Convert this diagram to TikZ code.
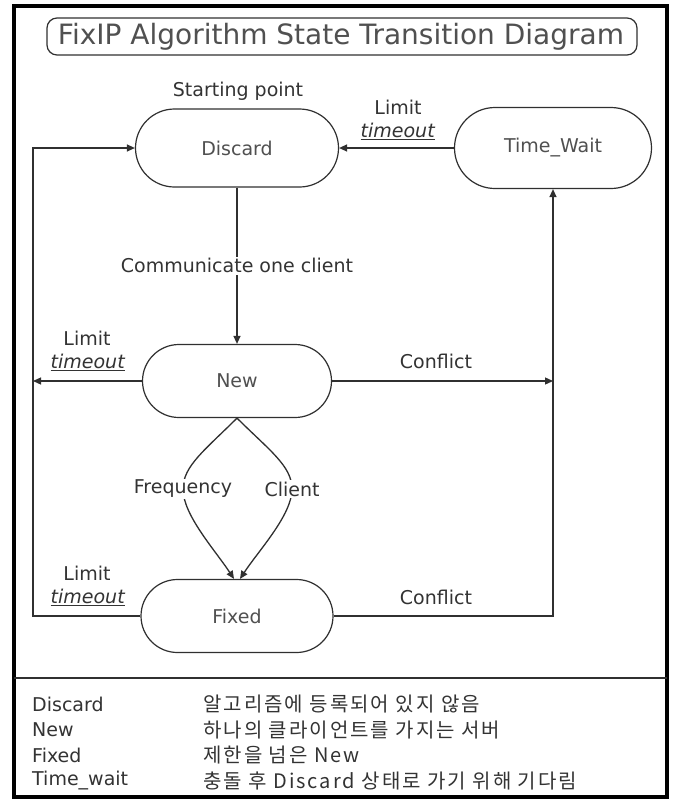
\documentclass[tikz,border=0pt]{standalone}
\usepackage{fontspec}
\setmainfont{DejaVu Sans}
\newfontfamily\kr[LetterSpace=10]{Noto Sans CJK KR}
\usetikzlibrary{arrows.meta,shapes.misc}
\definecolor{linec}{HTML}{303030}
\definecolor{txtnode}{HTML}{505050}
\definecolor{txtlbl}{HTML}{333333}
\begin{document}
\begin{tikzpicture}[x=1pt,y=-1pt,
  state/.style={draw=linec, rounded rectangle, line width=1.2pt, text=txtnode, inner sep=0pt,
    font=\fontsize{19}{22}\selectfont},
  lbl/.style={text=txtlbl, inner sep=1.5pt, font=\fontsize{19}{22}\selectfont},
  conn/.style={draw=linec, line width=1.3pt},
  arr/.style={conn, -{Triangle[length=8pt,width=7pt]}},
  leg/.style={text=txtlbl, inner sep=0pt, anchor=west, font=\fontsize{19}{22}\selectfont},
  legk/.style={text=txtlbl, inner sep=0pt, anchor=west, font=\kr\fontsize{20}{22}\selectfont},
]
\useasboundingbox (0,0) rectangle (677,801);
\fill[white] (0,0) rectangle (677,801);
% frame
\draw[line width=3.5pt, black] (14,6) rectangle (667,797);
\draw[line width=2pt, linec] (14,678) -- (667,678);
% title
\draw[line width=1.2pt, linec, rounded corners=10pt] (47,18) rectangle (637,55);
\node[text=txtnode, inner sep=0pt, font=\fontsize{28}{32}\selectfont] (title) at (341,37) {FixIP Algorithm State Transition Diagram};
% states
\node[state, minimum width=203, minimum height=78] (D) at (237,148) {Discard};
\node[state, minimum width=197, minimum height=81] (T) at (553,148) {Time\_Wait};
\node[state, minimum width=189, minimum height=73] (N) at (237,381) {New};
\node[state, minimum width=192, minimum height=73] (F) at (237,616) {Fixed};
% helper coordinates
\coordinate (lx) at (33,0);
\coordinate (fq) at (183,489);
\coordinate (cl) at (292,489);
% connectors
\draw[arr] (D.south) -- (N.north) node[pos=0.5, lbl, fill=white] (comm) {Communicate one client};
\draw[arr] (T.west) -- (D.east);
\draw[arr] (N.west) -- (N.west -| lx);
\draw[arr] (N.east) -- (N.east -| T.south);
\draw[arr] (F.east) -- (F.east -| T.south) -- (T.south);
\draw[arr] (F.west) -- (F.west -| lx) -- (D.west -| lx) -- (D.west);
\draw[arr] (N.south) .. controls (205,450) and (183,466) .. (fq)
  .. controls (183,515) and (215,550) .. ([xshift=-3pt]F.north);
\draw[arr] (N.south) .. controls (269,450) and (292,466) .. (cl)
  .. controls (292,515) and (259,550) .. ([xshift=3pt]F.north);
\node[lbl, fill=white] (fql) at (fq) {Frequency};
\node[lbl, fill=white] (cll) at (cl) {Client};
% labels
\node[lbl] (start) at (238,91) {Starting point};
\node[lbl] (l1a) at (398,107) {Limit};
\node[lbl] (l1b) at (398,131) {\underline{\textit{timeout}}};
\node[lbl] (l2a) at (87,338) {Limit};
\node[lbl] (l2b) at (88,362) {\underline{\textit{timeout}}};
\node[lbl] (c1) at (436,361) {Conflict};
\node[lbl] (l3a) at (87,573) {Limit};
\node[lbl] (l3b) at (88,597) {\underline{\textit{timeout}}};
\node[lbl] (c2) at (436,597) {Conflict};
% legend
\node[leg] (k1) at (32,704) {Discard};
\node[leg] (k2) at (32,730) {New};
\node[leg] (k3) at (32,755) {Fixed};
\node[leg] (k4) at (32,781) {Time\_wait};
\node[legk] (v1) at (203,704) {알고리즘에 등록되어 있지 않음};
\node[legk] (v2) at (203,730) {하나의 클라이언트를 가지는 서버};
\node[legk] (v3) at (203,755) {제한을 넘은 New};
\node[legk] (v4) at (203,781) {충돌 후 Discard 상태로 가기 위해 기다림};
\end{tikzpicture}
\end{document}
